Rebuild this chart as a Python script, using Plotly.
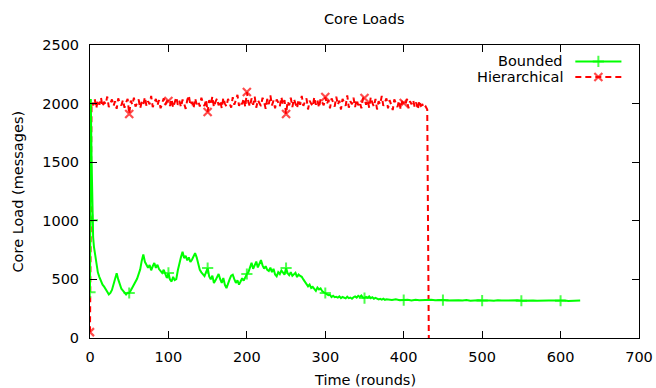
import plotly.graph_objects as go

# ---------------- data ----------------
title_text = "Core Loads"
x_title = "Time (rounds)"
y_title = "Core Load (messages)"
series_names = ["Bounded", "Hierarchical"]

x_tick_vals = [0, 100, 200, 300, 400, 500, 600, 700]
y_tick_vals = [0, 500, 1000, 1500, 2000, 2500]

# Bounded: x = 0..9 (step 1)
bounded_y_a = [390, 2040, 1520, 1005, 860, 780, 730, 690, 640, 600]
# Bounded: x = 10..378 (step 2)
bounded_y_b = [
    560, 520, 480, 455, 438, 420, 395, 372, 385, 410,
    460, 510, 552, 500, 455, 420, 405, 390, 372, 386,
    384, 405, 430, 442, 470, 505, 545, 585, 660, 712,
    650, 628, 600, 622, 578, 612, 640, 598, 625, 588,
    568, 556, 582, 538, 512, 555, 498, 482, 522, 494,
    502, 578, 642, 690, 736, 682, 702, 662, 688, 648,
    668, 702, 724, 688, 618, 582, 560, 538, 528, 562,
    597, 526, 500, 532, 470, 492, 520, 546, 502, 470,
    512, 452, 426, 472, 500, 532, 540, 502, 470, 492,
    456, 482, 510, 490, 520, 546, 562, 612, 642, 590,
    622, 652, 602, 630, 665, 620, 592, 612, 582, 572,
    600, 562, 590, 542, 526, 562, 546, 576, 560, 540,
    597, 552, 536, 562, 530, 546, 556, 520, 542, 530,
    522, 500, 480, 465, 440, 456, 426, 436, 420, 402,
    430, 415, 424, 400, 390, 384, 375, 366, 368, 350,
    360, 348, 352, 345, 355, 340, 350, 345, 338, 352,
    340, 345, 335, 348, 355, 345, 360, 350, 362, 345,
    341, 350, 345, 355, 340, 348, 335, 342, 338, 330,
    335, 328, 335, 325, 330,
]
# Bounded: x = 380..625 (step 5)
bounded_y_c = [
    328, 324, 330, 322, 324, 326, 320, 327, 323, 325,
    321, 326, 322, 324, 324, 321, 323, 319, 322, 320,
    324, 318, 321, 323, 319, 322, 320, 318, 322, 319,
    321, 317, 320, 322, 318, 320, 319, 321, 318, 320,
    317, 320, 319, 321, 318, 320, 316, 319, 318, 320,
]
bounded_marks = [0, 3, 50, 100, 150, 200, 250, 300, 350, 400, 450, 500, 550, 600]

# Hierarchical: x = 0..432 (step 2)
hier_y = [
    50, 2010, 1985, 2040, 1960, 2030, 1990, 2050, 1975, 2015, 1995, 2060, 1970,
    2005, 2035, 1980, 2020, 1955, 2045, 2000, 1985, 2030, 1965, 2010, 2040,
    1911, 2025, 1990, 2050, 1975, 2000, 2035, 1960, 2015, 1990, 2055, 1980, 2020,
    1995, 2065, 1970, 2010, 2040, 1985, 2030, 1960, 2005, 2045, 1990, 2020,
    2022, 1980, 2040, 1965, 2010, 2055, 1990, 2025, 1970, 2035, 2000, 1955, 2030,
    2070, 1985, 2015, 1960, 2045, 1995, 2020, 1975, 2050, 2005, 1980, 2035,
    1928, 2030, 1990, 2060, 1970, 2015, 2045, 1985, 2025, 1960, 2050, 2000, 1975,
    2040, 2010, 1965, 2055, 1990, 2030, 2075, 1980, 2020, 1995, 2045, 1970,
    2099, 2010, 1975, 2045, 1990, 2060, 1965, 2030, 2005, 1980, 2050, 2015, 1955,
    2040, 1995, 2070, 1985, 2025, 1960, 2035, 2010, 1975, 2055, 1990, 2030,
    1911, 2020, 1985, 2050, 1970, 2040, 2005, 1960, 2035, 1990, 2065, 1980, 2015,
    2045, 1950, 2025, 2000, 1975, 2055, 1990, 2030, 1965, 2040, 2010, 1985,
    2056, 1995, 2030, 1960, 2045, 2010, 1975, 2060, 1990, 2025, 1950, 2040, 2005,
    1980, 2070, 1965, 2020, 1995, 2050, 1970, 2035, 1985, 2015, 1960, 2045,
    2048, 1990, 2030, 1965, 2055, 2005, 1975, 2040, 1950, 2020, 1995, 2065, 1980,
    2010, 2045, 1960, 2030, 1990, 1945, 2035, 2000, 1970, 2025, 1955, 2015,
    2005, 1985, 2040, 1960, 2020, 1995, 2030, 1970, 2010, 1950, 2025, 1980, 1990,
    1960, 1975, 1950,
    0,
]
hier_marks = [0, 50, 100, 150, 200, 250, 300, 350, 400]

# ---------------- build x from lengths ----------------
bounded_x = (list(range(0, len(bounded_y_a)))
             + list(range(10, 10 + 2 * len(bounded_y_b), 2))
             + list(range(380, 380 + 5 * len(bounded_y_c), 5)))
bounded_y = bounded_y_a + bounded_y_b + bounded_y_c
hier_x = list(range(0, 2 * len(hier_y), 2))

GREEN = "#00ff00"
RED = "#ff0000"
FONT = "DejaVu Sans"
FS = 14.5
PLUS = 8
CROSS = 8

fig = go.Figure()

fig.add_trace(go.Scatter(
    x=hier_x, y=hier_y, mode="lines+markers", showlegend=False,
    line=dict(color=RED, width=2, dash="6px,4px"),
    marker=dict(symbol="x-thin", color=RED,
                size=[CROSS if x in hier_marks else 0 for x in hier_x],
                line=dict(color=RED, width=2.2)),
))
fig.add_trace(go.Scatter(
    x=bounded_x, y=bounded_y, mode="lines+markers", showlegend=False,
    line=dict(color=GREEN, width=2),
    marker=dict(symbol="cross-thin", color=GREEN,
                size=[PLUS if x in bounded_marks else 0 for x in bounded_x],
                line=dict(color=GREEN, width=2)),
))

# legend samples (drawn on an overlay axis with a fixed 0..1 range)
leg_x = [0.884, 0.926, 0.968]
leg_rows = [0.944, 0.891]
fig.add_trace(go.Scatter(
    x=leg_x, y=[leg_rows[0]] * 3, xaxis="x2", yaxis="y2", mode="lines+markers",
    showlegend=False, hoverinfo="skip",
    line=dict(color=GREEN, width=2),
    marker=dict(symbol="cross-thin", size=[0, PLUS, 0], color=GREEN,
                line=dict(color=GREEN, width=2)),
))
fig.add_trace(go.Scatter(
    x=leg_x, y=[leg_rows[1]] * 3, xaxis="x2", yaxis="y2", mode="lines+markers",
    showlegend=False, hoverinfo="skip",
    line=dict(color=RED, width=2, dash="6px,4px"),
    marker=dict(symbol="x-thin", size=[0, CROSS, 0], color=RED,
                line=dict(color=RED, width=2.2)),
))

for name, yy in zip(series_names, leg_rows):
    fig.add_annotation(text=name, xref="paper", yref="paper", x=0.866, y=yy,
                       xanchor="right", yanchor="middle", showarrow=False,
                       font=dict(family=FONT, size=FS, color="black"))

fig.add_annotation(text=title_text, xref="paper", yref="paper", x=0.5, y=1.0,
                   yshift=26, xanchor="center", yanchor="middle", showarrow=False,
                   font=dict(family=FONT, size=FS, color="black"))
fig.add_annotation(text=x_title, xref="paper", yref="paper", x=0.5, y=0,
                   yshift=-42, xanchor="center", yanchor="middle", showarrow=False,
                   font=dict(family=FONT, size=FS, color="black"))
fig.add_annotation(text=y_title, xref="paper", yref="paper", x=0, y=0.5,
                   xshift=-73, xanchor="center", yanchor="middle", textangle=-90,
                   showarrow=False, font=dict(family=FONT, size=FS, color="black"))

axis_common = dict(showgrid=False, zeroline=False, ticks="inside", ticklen=7,
                   tickwidth=1, tickcolor="black", showline=True, linecolor="black",
                   linewidth=1, mirror="allticks", automargin=False,
                   tickfont=dict(family=FONT, size=FS, color="black"))

fig.update_layout(
    width=656, height=388, autosize=False,
    margin=dict(l=90, r=17, t=45, b=50, autoexpand=False),
    paper_bgcolor="white", plot_bgcolor="white",
    font=dict(family=FONT, size=FS, color="black"),
    xaxis=dict(range=[0, 700], tickvals=x_tick_vals, ticklabelstandoff=6, **axis_common),
    yaxis=dict(range=[0, 2500], tickvals=y_tick_vals, ticklabelstandoff=7, **axis_common),
    xaxis2=dict(overlaying="x", range=[0, 1], visible=False),
    yaxis2=dict(overlaying="y", range=[0, 1], visible=False),
    showlegend=False,
)

fig.write_html(
    "out.html",
    config={"displayModeBar": False, "responsive": False},
    post_script="document.body.style.margin='0';document.body.style.overflow='hidden';",
)
